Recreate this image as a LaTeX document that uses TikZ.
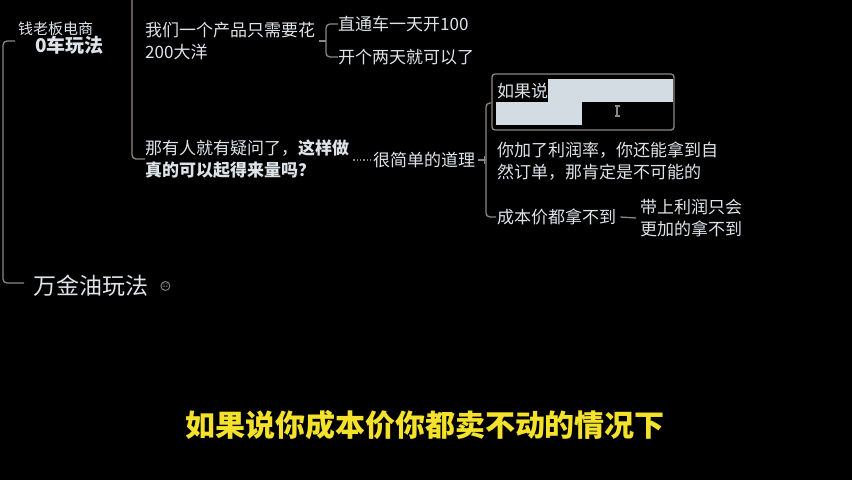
\documentclass[tikz,border=0pt]{standalone}
\usepackage{fontspec}
\setmainfont{Noto Sans CJK SC}
\definecolor{txt}{HTML}{DDE3E8}
\definecolor{ln}{HTML}{8C8782}
\definecolor{sel}{HTML}{D3DCE2}
\definecolor{yel}{HTML}{F3E12C}
\begin{document}
\begin{tikzpicture}[x=1pt,y=-1pt,
  lbl/.style={anchor=west,inner sep=0pt,text=txt,align=left,font=\fontsize{17}{22}\selectfont},
  conn/.style={draw=ln,line width=1.3pt,rounded corners=4pt},
  dotconn/.style={draw=ln,line width=1.3pt,dotted}]
\fill[black] (0,0) rectangle (852,480);
\useasboundingbox (0,0) rectangle (852,480);

% left main branch
\node[lbl,font=\fontsize{15}{16}\selectfont] (boss) at (18,29) {钱老板电商};
\node[lbl,font=\bfseries\fontsize{19}{20}\selectfont] (zero) at (35,45) {0车玩法};
\node[lbl,font=\fontsize{23}{24}\selectfont] (wjy) at (33,286) {万金油玩法};
\coordinate (ltop) at (15,41);
\coordinate (lbot) at (24,283);
\draw[conn] (ltop) -- (3,41) -- (3,283) -- (lbot);
\draw[ln,line width=0.9pt] ([xshift=17pt]wjy.east) circle (4.5pt);
\node[inner sep=0pt,text=ln,font=\fontsize{5}{5}\selectfont] (icon) at ([xshift=17pt]wjy.east) {12};

% children of 0车玩法
\node[lbl] (n1) at (145,41) {我们一个产品只需要花\\200大洋};
\node[lbl] (n2) at (145,159) {那有人就有疑问了，\textbf{这样做}\\\textbf{真的可以起得来量吗？}};
\coordinate (vtop) at (132,0);
\draw[conn] (vtop) -- (132,159) -- (n2.west);

% children of n1
\node[lbl] (a1) at (338,24) {直通车一天开100};
\node[lbl] (a2) at (338,57) {开个两天就可以了};
\draw[conn] (n1.east) ++(4,0) coordinate (s1) -- (326,41);
\draw[conn] (a1.west) -- (326,24) -- (326,57) -- (a2.west);

% n2 -> 很简单的道理
\node[lbl] (b1) at (373,160) {很简单的道理};
\draw[dotconn] ([xshift=4pt]n2.east |- b1.west) -- ([xshift=-3pt]b1.west);

% box 如果说
\node[draw=ln,line width=1.3pt,rounded corners=3pt,minimum width=182pt,minimum height=56pt,inner sep=0pt] (box) at (583,102) {};
\fill[sel] (548,79) rectangle (673,102);
\fill[sel] (496,102) rectangle (582,125);
\node[lbl] (c0) at (497,91) {如果说};
\draw[ln,line width=1.2pt] (617,106) -- (617,116) (614.5,106) -- (619.5,106) (614.5,116) -- (619.5,116);

\node[lbl] (c1) at (497,161) {你加了利润率，你还能拿到自\\然订单，那肯定是不可能的};
\node[lbl] (c2) at (497,217) {成本价都拿不到};
\draw[conn] (box.west |- 0,103) -- (486,103) -- (486,217) -- ([xshift=-1pt]c2.west);
\draw[conn] ([xshift=3pt]b1.east) -- (486,160);
\draw[ln,line width=1pt] (484,156) -- (484,164);

\node[lbl] (d1) at (640,218) {带上利润只会\\更加的拿不到};
\draw[conn] ([xshift=4pt]c2.east) -- ([xshift=-4pt]d1.west);

% subtitle
\node[inner sep=0pt,text=yel,font=\bfseries\fontsize{30}{32}\selectfont] (sub) at (425,425) {如果说你成本价你都卖不动的情况下};
\end{tikzpicture}
\end{document}
